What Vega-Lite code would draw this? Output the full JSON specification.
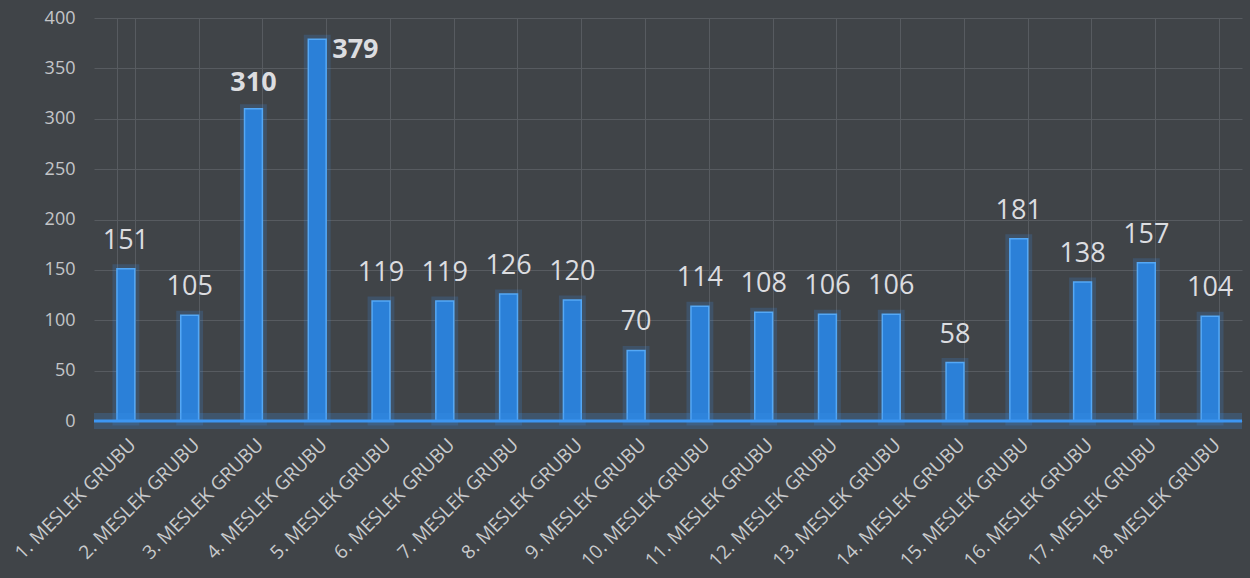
{
  "$schema": "https://vega.github.io/schema/vega-lite/v6.json",
  "width": 1148,
  "height": 403,
  "autosize": {"type": "none"},
  "padding": {"left": 94, "top": 18, "right": 8, "bottom": 157},
  "background": "#404448",
  "config": {
    "view": {"stroke": null},
    "font": "Open Sans"
  },
  "data": {
    "values": [
      {"grup": "1. MESLEK GRUBU", "deger": 151},
      {"grup": "2. MESLEK GRUBU", "deger": 105},
      {"grup": "3. MESLEK GRUBU", "deger": 310},
      {"grup": "4. MESLEK GRUBU", "deger": 379},
      {"grup": "5. MESLEK GRUBU", "deger": 119},
      {"grup": "6. MESLEK GRUBU", "deger": 119},
      {"grup": "7. MESLEK GRUBU", "deger": 126},
      {"grup": "8. MESLEK GRUBU", "deger": 120},
      {"grup": "9. MESLEK GRUBU", "deger": 70},
      {"grup": "10. MESLEK GRUBU", "deger": 114},
      {"grup": "11. MESLEK GRUBU", "deger": 108},
      {"grup": "12. MESLEK GRUBU", "deger": 106},
      {"grup": "13. MESLEK GRUBU", "deger": 106},
      {"grup": "14. MESLEK GRUBU", "deger": 58},
      {"grup": "15. MESLEK GRUBU", "deger": 181},
      {"grup": "16. MESLEK GRUBU", "deger": 138},
      {"grup": "17. MESLEK GRUBU", "deger": 157},
      {"grup": "18. MESLEK GRUBU", "deger": 104}
    ]
  },
  "layer": [
    {
      "mark": {"type": "bar", "color": "#2f86e0", "stroke": "#3d98f5", "strokeWidth": 9, "strokeOpacity": 0.18},
      "encoding": {
        "x": {
          "field": "grup", "type": "nominal", "sort": null,
          "scale": {"paddingInner": 0.72, "paddingOuter": 0.36},
          "axis": {
            "title": null, "ticks": false, "domain": false,
            "labelAngle": -45, "labelFontSize": 19, "labelColor": "#c9cbcd", "labelPadding": 14,
            "grid": true, "tickBand": "extent", "gridColor": "#575b60", "gridWidth": 1
          }
        },
        "y": {
          "field": "deger", "type": "quantitative", "scale": {"domain": [0, 400]},
          "axis": {
            "title": null, "ticks": false, "domain": false,
            "values": [0, 50, 100, 150, 200, 250, 300, 350, 400], "labelOverlap": false,
            "labelFontSize": 18, "labelColor": "#c4c6c8", "labelPadding": 19,
            "gridColor": "#575b60", "gridWidth": 1
          }
        }
      }
    },
    {
      "mark": {"type": "bar", "color": "#2b80d8", "stroke": "#55a8f5", "strokeWidth": 1.5},
      "encoding": {
        "x": {"field": "grup", "type": "nominal", "sort": null},
        "y": {"field": "deger", "type": "quantitative"}
      }
    },
    {
      "data": {"values": [{"sifir": 0}]},
      "mark": {"type": "rule", "color": "#3a92ef", "strokeWidth": 16, "strokeOpacity": 0.22},
      "encoding": {"y": {"field": "sifir", "type": "quantitative"}}
    },
    {
      "data": {"values": [{"sifir": 0}]},
      "mark": {"type": "rule", "color": "#3d96f2", "strokeWidth": 3},
      "encoding": {"y": {"field": "sifir", "type": "quantitative"}}
    },
    {
      "transform": [{"filter": "datum.deger < 300"}],
      "mark": {"type": "text", "baseline": "bottom", "dy": -14, "fontSize": 27, "color": "#dcdde0"},
      "encoding": {
        "x": {"field": "grup", "type": "nominal", "sort": null},
        "y": {"field": "deger", "type": "quantitative"},
        "text": {"field": "deger", "type": "quantitative"}
      }
    },
    {
      "transform": [{"filter": "datum.deger == 310"}],
      "mark": {"type": "text", "baseline": "bottom", "dy": -12, "fontSize": 27, "fontWeight": "bold", "color": "#dcdde0"},
      "encoding": {
        "x": {"field": "grup", "type": "nominal", "sort": null},
        "y": {"field": "deger", "type": "quantitative"},
        "text": {"field": "deger", "type": "quantitative"}
      }
    },
    {
      "transform": [{"filter": "datum.deger == 379"}],
      "mark": {"type": "text", "baseline": "middle", "align": "left", "dx": 15, "dy": 11, "fontSize": 27, "fontWeight": "bold", "color": "#dcdde0"},
      "encoding": {
        "x": {"field": "grup", "type": "nominal", "sort": null},
        "y": {"field": "deger", "type": "quantitative"},
        "text": {"field": "deger", "type": "quantitative"}
      }
    }
  ]
}
